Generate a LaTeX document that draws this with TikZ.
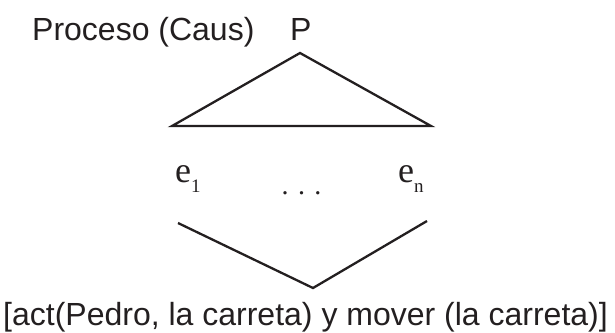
\documentclass[tikz,border=0pt]{standalone}
\usepackage{fontspec}
\setmainfont{Liberation Sans}
\newfontfamily\serfont{Liberation Serif}
\definecolor{ink}{HTML}{231F20}
\tikzset{
  lbl/.style={inner sep=0pt, anchor=base west, text=ink, font=\fontsize{32}{38}\selectfont},
  elbl/.style={inner sep=0pt, anchor=base west, text=ink, font=\serfont\fontsize{36}{40}\selectfont},
  ln/.style={draw=ink, line width=2.3pt, line join=miter}
}
\newcommand{\subtxt}[1]{\raisebox{-10pt}{\fontsize{19}{21}\selectfont #1}}
\begin{document}
\begin{tikzpicture}[x=1pt,y=-1pt]
\useasboundingbox (0,0) rectangle (615,332);
\node[lbl] (proc) at (32,40) {Proceso (Caus)};
\node[lbl] (p) at (290,40) {P};
\coordinate (apex) at (300,53);
\coordinate (bl) at (172,126);
\coordinate (br) at (431,126);
\draw[ln] (apex) -- (br) -- (bl) -- cycle;
\node[elbl] (e1) at (175,182) {e\subtxt{1}};
\node[inner sep=0pt, anchor=base west, text=ink, font=\serfont\fontsize{28}{32}\selectfont] (dots) at (281.5,194) {.\,\,.\,\,.};
\node[elbl] (en) at (398,182) {e\subtxt{n}};
\coordinate (vl) at (178,223);
\coordinate (vb) at (313,288);
\coordinate (vr) at (427,221);
\draw[ln] (vl) -- (vb) -- (vr);
\node[lbl] (bottom) at (3,325) {[act(Pedro, la carreta) y mover (la carreta)]};
\end{tikzpicture}
\end{document}
